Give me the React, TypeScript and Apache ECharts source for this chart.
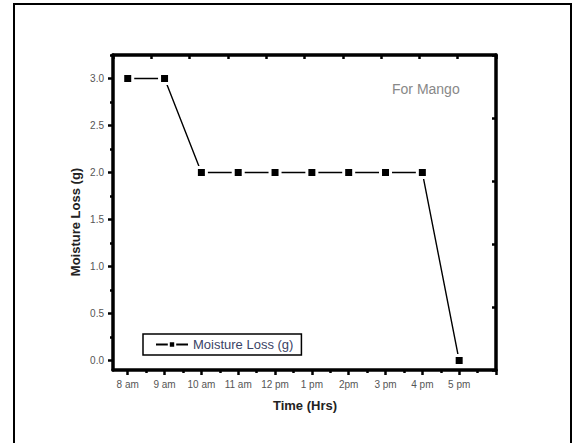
import React, { useEffect, useRef } from "react";
import * as echarts from "echarts";

const timeLabels = ["8 am", "9 am", "10 am", "11 am", "12 pm", "1 pm", "2pm", "3 pm", "4 pm", "5 pm"];
const moistureLoss = [3.0, 3.0, 2.0, 2.0, 2.0, 2.0, 2.0, 2.0, 2.0, 0.0];
const yTickValues = [0, 0.5, 1.0, 1.5, 2.0, 2.5, 3.0];
const yMinorTicks = [0.25, 0.75, 1.25, 1.75, 2.25, 2.75, 3.25];
const xMajorTicks = [0, 1, 2, 3, 4, 5, 6, 7, 8, 9, 10];
const xMinorTicks = [0.5, 1.5, 2.5, 3.5, 4.5, 5.5, 6.5, 7.5, 8.5, 9.5];
const xLabelValues = [0, 1, 2, 3, 4, 5, 6, 7, 8, 9];

const FONT = "Liberation Sans, Arial, sans-serif";

export default function App() {
  const ref = useRef<HTMLDivElement>(null);
  useEffect(() => {
    if (!ref.current) return;
    const chart = echarts.init(ref.current, undefined, { renderer: "svg" });
    const axisLine = { show: true, onZero: false, lineStyle: { color: "#000", width: 3.5 } };
    const noLine = { show: false, onZero: false };
    const tickStyle = { color: "#000", width: 2.5 };
    chart.setOption({
      animation: false,
      backgroundColor: "#fff",
      grid: { left: 113, right: 81, top: 55, bottom: 73, containLabel: false },
      xAxis: [
        {
          type: "value",
          position: "bottom",
          min: -0.4,
          max: 10,
          axisLine,
          axisTick: { show: true, customValues: xMajorTicks, length: 5, lineStyle: tickStyle },
          axisLabel: {
            show: true,
            customValues: xLabelValues,
            formatter: (v: number) => timeLabels[Math.round(v)] ?? "",
            color: "#555",
            fontFamily: FONT,
            fontSize: 10,
            margin: 9,
          },
          splitLine: { show: false },
        },
        {
          type: "value",
          position: "top",
          min: 0,
          max: 1,
          interval: 0.1,
          axisLine,
          axisTick: { show: true, inside: true, length: 4, lineStyle: tickStyle },
          axisLabel: { show: false },
          splitLine: { show: false },
        },
        {
          type: "value",
          position: "bottom",
          min: -0.4,
          max: 10,
          axisLine: noLine,
          axisTick: { show: true, customValues: xMinorTicks, length: 3, lineStyle: tickStyle },
          axisLabel: { show: false },
          splitLine: { show: false },
        },
      ],
      yAxis: [
        {
          type: "value",
          position: "left",
          min: -0.1,
          max: 3.25,
          axisLine,
          axisTick: { show: true, customValues: yTickValues, length: 5, lineStyle: tickStyle },
          axisLabel: {
            show: true,
            customValues: yTickValues,
            formatter: (v: number) => v.toFixed(1),
            color: "#555",
            fontFamily: FONT,
            fontSize: 10,
            margin: 9,
          },
          splitLine: { show: false },
        },
        {
          type: "value",
          position: "right",
          min: 0,
          max: 1,
          interval: 0.2,
          axisLine,
          axisTick: { show: true, inside: true, length: 4, lineStyle: tickStyle },
          axisLabel: { show: false },
          splitLine: { show: false },
        },
        {
          type: "value",
          position: "left",
          min: -0.1,
          max: 3.25,
          axisLine: noLine,
          axisTick: { show: true, customValues: yMinorTicks, length: 3, lineStyle: tickStyle },
          axisLabel: { show: false },
          splitLine: { show: false },
        },
      ],
      legend: {
        show: true,
        left: 143,
        top: 334,
        orient: "horizontal",
        padding: [4, 8, 4, 12],
        borderColor: "#000",
        borderWidth: 1.5,
        itemWidth: 32,
        itemHeight: 8,
        itemGap: 5,
        textStyle: { color: "#3a4466", fontFamily: FONT, fontSize: 13 },
        data: ["Moisture Loss (g)"],
      },
      series: [
        {
          name: "Moisture Loss (g)",
          type: "line",
          xAxisIndex: 0,
          yAxisIndex: 0,
          data: moistureLoss.map((v, i) => [i, v]),
          symbol: "rect",
          symbolSize: 10,
          lineStyle: { color: "#000", width: 1.4 },
          itemStyle: { color: "#000", borderColor: "#fff", borderWidth: 3 },
        },
      ],
      graphic: [
        {
          type: "rect",
          shape: { x: 14, y: 4, width: 557, height: 460 },
          style: { fill: "none", stroke: "#000", lineWidth: 2 },
          silent: true,
        },
        {
          type: "text",
          x: 392,
          y: 89,
          style: { text: "For Mango", fill: "#888", font: `14px ${FONT}`, textVerticalAlign: "middle" },
        },
        {
          type: "text",
          x: 305,
          y: 405,
          style: { text: "Time (Hrs)", fill: "#222", font: `bold 13px ${FONT}`, textAlign: "center", textVerticalAlign: "middle" },
        },
        {
          type: "text",
          x: 75,
          y: 222,
          rotation: Math.PI / 2,
          style: { text: "Moisture Loss (g)", fill: "#222", font: `bold 13px ${FONT}`, textAlign: "center", textVerticalAlign: "middle" },
        },
      ],
    });
    return () => chart.dispose();
  }, []);
  return <div ref={ref} style={{ position: "fixed", left: 0, top: 0, width: 577, height: 443 }} />;
}
